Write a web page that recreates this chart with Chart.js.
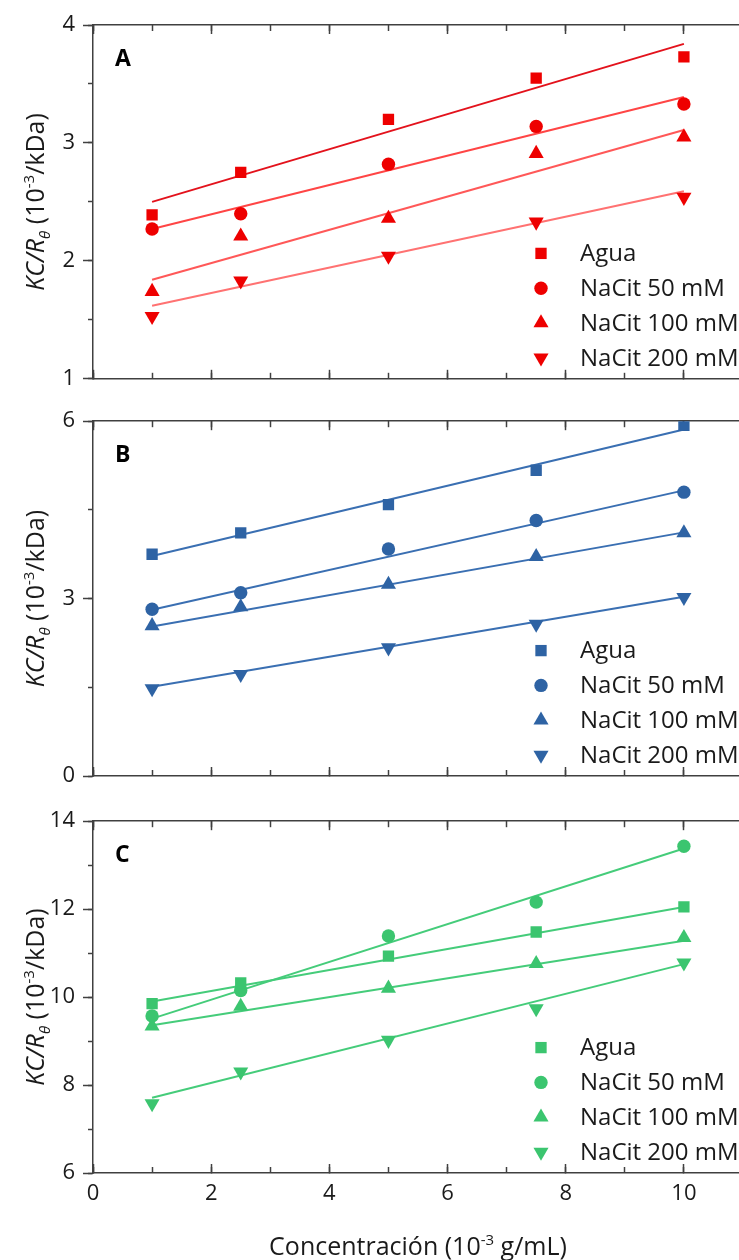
<!DOCTYPE html>
<html lang="es">
<head>
<meta charset="utf-8">
<title>KC/Rθ frente a concentración</title>
<script src="https://cdn.jsdelivr.net/npm/chart.js@4.4.1/dist/chart.umd.min.js"></script>
<style>
  html, body { margin: 0; padding: 0; background: #fff; overflow: hidden; }
  #wrap { position: relative; width: 739px; height: 1260px; overflow: hidden; }
  #wrap canvas { position: absolute; left: 0; }
  #chartA { top: 0; }
  #chartB { top: 400px; }
  #chartC { top: 800px; }
</style>
</head>
<body>
<div id="wrap">
  <canvas id="chartA" width="743" height="400"></canvas>
  <canvas id="chartB" width="743" height="400"></canvas>
  <canvas id="chartC" width="743" height="460"></canvas>
</div>
<script>
(() => {
  "use strict";

  const FONT = "'Open Sans', 'DejaVu Sans', sans-serif";
  const TEXT = "#1a1a1a";
  const AXIS = "#404040";

  // x values (10^-3 g/mL) and fit line end points
  const concentrations = [1, 2.5, 5, 7.5, 10];
  const fitRange = [1, 10];
  const seriesNames = ["Agua", "NaCit 50 mM", "NaCit 100 mM", "NaCit 200 mM"];
  const xTicks = [0, 2, 4, 6, 8, 10];

  // panel A
  const aAgua = [2.39, 2.75, 3.20, 3.55, 3.73];
  const aCit50 = [2.27, 2.40, 2.82, 3.14, 3.33];
  const aCit100 = [1.74, 2.21, 2.36, 2.91, 3.05];
  const aCit200 = [1.53, 1.83, 2.04, 2.33, 2.54];
  const aFits = [[2.50, 3.84], [2.27, 3.39], [1.84, 3.11], [1.62, 2.59]];

  // panel B
  const bAgua = [3.75, 4.11, 4.59, 5.17, 5.93];
  const bCit50 = [2.82, 3.10, 3.84, 4.32, 4.80];
  const bCit100 = [2.54, 2.86, 3.24, 3.71, 4.11];
  const bCit200 = [1.48, 1.72, 2.17, 2.57, 3.02];
  const bFits = [[3.72, 5.86], [2.81, 4.83], [2.53, 4.12], [1.51, 3.03]];

  // panel C
  const cAgua = [9.85, 10.32, 10.93, 11.48, 12.05];
  const cCit50 = [9.57, 10.15, 11.39, 12.16, 13.43];
  const cCit100 = [9.34, 9.79, 10.20, 10.76, 11.35];
  const cCit200 = [7.58, 8.30, 9.02, 9.74, 10.78];
  const cFits = [[9.90, 12.05], [9.51, 13.38], [9.36, 11.28], [7.71, 10.75]];

  const markerStyles = ["rect", "circle", "triangle", "triangle"];
  const markerRotations = [0, 0, 0, 180];
  const markerRadii = [8, 6.7, 8.7, 8.7];

  const red = { marker: "#ee0000", lines: ["#e3121c", "#ff4545", "#ff5858", "#ff7272"] };
  const blue = { marker: "#2e63a4", lines: ["#3a6fb2", "#3a6fb2", "#3a6fb2", "#3a6fb2"] };
  const green = { marker: "#3bc56f", lines: ["#45cc7a", "#45cc7a", "#45cc7a", "#45cc7a"] };

  const panels = [
    { id: "chartA", letter: "A", values: [aAgua, aCit50, aCit100, aCit200], fits: aFits,
      yMin: 1, yMax: 4, yStep: 1, yMinor: 0.5, colours: red, padTop: 25, xHeight: 20, xLabels: false },
    { id: "chartB", letter: "B", values: [bAgua, bCit50, bCit100, bCit200], fits: bFits,
      yMin: 0, yMax: 6, yStep: 3, yMinor: 1.5, colours: blue, padTop: 21, xHeight: 24, xLabels: false },
    { id: "chartC", letter: "C", values: [cAgua, cCit50, cCit100, cCit200], fits: cFits,
      yMin: 6, yMax: 14, yStep: 2, yMinor: 1, colours: green, padTop: 17, xHeight: 87, xLabels: true }
  ];

  const yTitleRuns = [
    { text: "KC/R", italic: true },
    { text: "θ", italic: true, sub: true },
    { text: " (10" },
    { text: "-3", sup: true },
    { text: "/kDa)" }
  ];
  const xTitleRuns = [
    { text: "Concentración (10" },
    { text: "-3", sup: true },
    { text: " g/mL)" }
  ];

  function drawRich(ctx, runs, size) {
    // draws centred on x = 0 with the baseline at y = 0
    const small = Math.round(size * 0.6);
    const fontFor = (r) =>
      `${r.italic ? "italic " : ""}${r.sup || r.sub ? small : size}px ${FONT}`;
    const widths = runs.map((r) => {
      ctx.font = fontFor(r);
      return ctx.measureText(r.text).width;
    });
    const total = widths.reduce((a, b) => a + b, 0);
    let x = -total / 2;
    ctx.fillStyle = TEXT;
    ctx.textBaseline = "alphabetic";
    ctx.textAlign = "left";
    runs.forEach((r, i) => {
      ctx.font = fontFor(r);
      const dy = r.sup ? -size * 0.4 : r.sub ? size * 0.22 : 0;
      ctx.fillText(r.text, x, dy);
      x += widths[i];
    });
  }

  const annotationsPlugin = {
    id: "panelText",
    afterDraw(chart, args, opts) {
      const { ctx, chartArea } = chart;
      const midY = (chartArea.top + chartArea.bottom) / 2;

      // y axis title
      ctx.save();
      ctx.translate(44, midY);
      ctx.rotate(-Math.PI / 2);
      drawRich(ctx, yTitleRuns, 25);
      ctx.restore();

      // panel letter
      ctx.save();
      ctx.font = `bold 23px ${FONT}`;
      ctx.fillStyle = "#000";
      ctx.textBaseline = "alphabetic";
      ctx.fillText(opts.letter, chartArea.left + 22, chartArea.top + 41);
      ctx.restore();

      // x axis title (bottom panel only)
      if (opts.xTitle) {
        ctx.save();
        ctx.translate((chartArea.left + chartArea.right) / 2, chartArea.bottom + 82);
        drawRich(ctx, xTitleRuns, 25);
        ctx.restore();
      }

      // legend, bottom right inside the plot
      const markers = chart.data.datasets.filter((ds) => ds.isMarker);
      ctx.save();
      ctx.font = `24px ${FONT}`;
      ctx.textBaseline = "middle";
      ctx.textAlign = "left";
      markers.forEach((ds, i) => {
        const y = chartArea.bottom - 21 - 34.8 * (markers.length - 1 - i);
        const mx = chartArea.right - 202;
        ctx.fillStyle = ds.pointBackgroundColor;
        Chart.helpers.drawPoint(ctx, {
          pointStyle: ds.pointStyle,
          rotation: ds.pointRotation,
          radius: ds.pointRadius,
          borderWidth: 0
        }, mx, y);
        ctx.fillStyle = TEXT;
        ctx.fillText(ds.label, chartArea.right - 163, y + 1);
      });
      ctx.restore();
    }
  };

  function buildDatasets(panel) {
    const sets = [];
    panel.values.forEach((vals, i) => {
      sets.push({
        label: seriesNames[i],
        isMarker: true,
        data: concentrations.map((c, k) => ({ x: c, y: vals[k] })),
        showLine: false,
        pointStyle: markerStyles[i],
        pointRotation: markerRotations[i],
        pointRadius: markerRadii[i],
        pointHoverRadius: markerRadii[i],
        pointBackgroundColor: panel.colours.marker,
        pointBorderWidth: 0
      });
    });
    panel.fits.forEach((ends, i) => {
      sets.push({
        label: seriesNames[i] + " (ajuste)",
        data: fitRange.map((c, k) => ({ x: c, y: ends[k] })),
        showLine: true,
        pointRadius: 0,
        borderColor: panel.colours.lines[i],
        borderWidth: 2,
        fill: false
      });
    });
    return sets;
  }

  function xAxis(position, step, tickLength, weight, extra) {
    return Object.assign({
      type: "linear",
      position,
      min: 0,
      max: 11,
      weight,
      border: { display: false },
      grid: { drawOnChartArea: false, tickLength, tickColor: AXIS, tickWidth: 1.5 },
      ticks: { stepSize: step, display: false, includeBounds: false },
      afterFit(scale) { scale.height = 0; }
    }, extra || {});
  }

  function buildScales(panel) {
    const tickFont = { family: FONT, size: 22 };
    return {
      x: xAxis("bottom", 2, -9, 1, {
        border: { display: true, color: AXIS, width: 1.5 },
        ticks: {
          stepSize: 2,
          includeBounds: false,
          display: panel.xLabels,
          padding: 17,
          color: TEXT,
          font: tickFont,
          maxRotation: 0,
          callback: (v) => (xTicks.includes(v) ? String(v) : "")
        },
        afterFit(scale) { scale.height = panel.xHeight; }
      }),
      xMinor: xAxis("bottom", 1, -6, 0),
      xTop: xAxis("top", 2, -9, 1, { border: { display: true, color: AXIS, width: 1.5 } }),
      xTopMinor: xAxis("top", 1, -6, 0),
      y: {
        type: "linear",
        position: "left",
        min: panel.yMin,
        max: panel.yMax,
        weight: 1,
        border: { display: true, color: AXIS, width: 1.5 },
        grid: { drawOnChartArea: false, tickLength: 10, tickColor: AXIS, tickWidth: 1.5 },
        ticks: { stepSize: panel.yStep, padding: 8, color: TEXT, font: tickFont },
        afterFit(scale) { scale.width = 93; }
      },
      yMinor: {
        type: "linear",
        position: "left",
        min: panel.yMin,
        max: panel.yMax,
        weight: 0,
        border: { display: false },
        grid: { drawOnChartArea: false, tickLength: 5, tickColor: AXIS, tickWidth: 1.5 },
        ticks: { stepSize: panel.yMinor, display: false },
        afterFit(scale) { scale.width = 0; }
      }
    };
  }

  Chart.defaults.font.family = FONT;

  panels.forEach((panel) => {
    const canvas = document.getElementById(panel.id);
    new Chart(canvas.getContext("2d"), {
      type: "scatter",
      data: { datasets: buildDatasets(panel) },
      options: {
        responsive: false,
        animation: false,
        layout: {
          autoPadding: false,
          padding: { top: panel.padTop, right: 0, bottom: 0, left: 0 }
        },
        scales: buildScales(panel),
        plugins: {
          legend: { display: false },
          tooltip: { enabled: false },
          panelText: { letter: panel.letter, xTitle: panel.xLabels }
        }
      },
      plugins: [annotationsPlugin]
    });
  });
})();
</script>
</body>
</html>
